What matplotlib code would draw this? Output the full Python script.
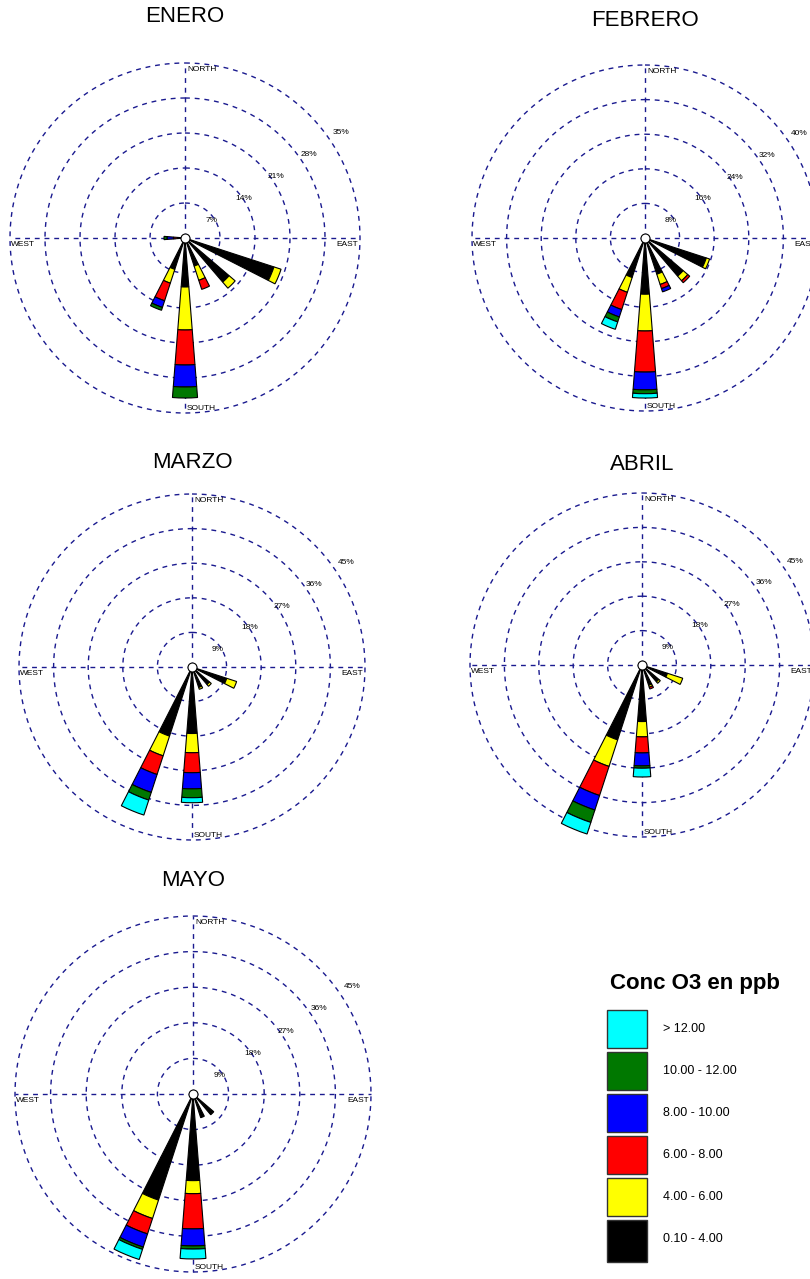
import numpy as np
import matplotlib.pyplot as plt
from matplotlib.patches import Rectangle

plt.rcParams['font.family'] = ['Liberation Sans', 'DejaVu Sans']

# 16 wind sectors, 22.5 deg apart, clockwise from north
sectors = ['N', 'NNE', 'NE', 'ENE', 'E', 'ESE', 'SE', 'SSE',
           'S', 'SSW', 'SW', 'WSW', 'W', 'WNW', 'NW', 'NNW']

class_colors = ['#000000', '#FFFF00', '#FF0000', '#0000FF', '#007800', '#00FFFF']
class_labels = ['0.10 - 4.00', '4.00 - 6.00', '6.00 - 8.00',
                '8.00 - 10.00', '10.00 - 12.00', '> 12.00']

# frequency (%) per class: black, yellow, red, blue, green, cyan
enero = {'W':   [1.0, 0.4, 0.9, 1.3, 0.6, 0.0],
         'SSW': [6.6, 2.9, 3.7, 1.4, 0.6, 0.0],
         'S':   [9.8, 8.6, 7.0, 4.4, 2.2, 0.0],
         'SSE': [5.9, 3.0, 1.9, 0.0, 0.0, 0.0],
         'SE':  [11.6, 1.6, 0.0, 0.0, 0.0, 0.0],
         'ESE': [18.7, 1.5, 0.0, 0.0, 0.0, 0.0]}
febrero = {'ESE': [14.9, 0.8, 0.0, 0.0, 0.0, 0.0],
           'SE':  [11.6, 1.4, 0.6, 0.0, 0.0, 0.0],
           'SSE': [8.8, 2.5, 1.0, 0.8, 0.0, 0.0],
           'SSW': [9.6, 3.6, 4.2, 1.8, 1.2, 1.8],
           'S':   [13.0, 8.5, 9.5, 4.1, 0.9, 1.0]}
marzo = {'ESE': [9.5, 2.7, 0.0, 0.0, 0.0, 0.0],
         'SE':  [6.0, 0.6, 0.0, 0.0, 0.0, 0.0],
         'SSE': [5.6, 0.5, 0.0, 0.0, 0.0, 0.0],
         'S':   [17.3, 5.0, 5.2, 4.2, 2.3, 1.3],
         'SSW': [18.9, 5.4, 5.1, 4.9, 2.1, 4.1]}
abril = {'ESE': [7.0, 4.2, 0.0, 0.0, 0.0, 0.0],
         'SE':  [5.8, 0.5, 0.0, 0.0, 0.0, 0.0],
         'SSE': [5.6, 0.5, 0.5, 0.0, 0.0, 0.0],
         'S':   [14.8, 4.0, 4.2, 3.4, 0.6, 2.3],
         'SSW': [20.6, 7.3, 8.0, 4.0, 3.4, 3.2]}
mayo = {'SE':  [6.9, 0.0, 0.0, 0.0, 0.0, 0.0],
        'SSE': [6.3, 0.0, 0.0, 0.0, 0.0, 0.0],
        'S':   [21.9, 3.3, 8.9, 4.3, 0.8, 2.5],
        'SSW': [28.2, 4.9, 4.1, 3.5, 0.6, 2.7]}

months = ['ENERO', 'FEBRERO', 'MARZO', 'ABRIL', 'MAYO']
month_data = [enero, febrero, marzo, abril, mayo]
ring_max = [35, 40, 45, 45, 45]

W, H = 810, 1279
fig = plt.figure(figsize=(W / 100, H / 100), dpi=100)
grid_color = '#1a1a8f'
dash = (0, (3.5, 3.5))

# pixel layout: center x, center y, radius, title y
layout = [(185, 238, 175, 16), (645, 238, 173, 20), (192, 667, 173, 462),
          (642, 665, 172, 465), (193, 1094, 178, 880)]


def draw_rose(cx, cy, rpx, data, rmax, title, ty):
    ax = fig.add_axes([(cx - rpx) / W, 1 - (cy + rpx) / H, 2 * rpx / W, 2 * rpx / H],
                      projection='polar')
    ax.set_theta_zero_location('N')
    ax.set_theta_direction(-1)
    ax.set_ylim(0, rmax)
    ax.set_axis_off()

    t = np.linspace(0, 2 * np.pi, 361)
    step = rmax / 5
    for k in range(1, 6):
        ax.plot(t, np.full_like(t, step * k), ls=dash, color=grid_color,
                lw=1.0, clip_on=False, zorder=1)
    for a in [0, np.pi / 2, np.pi, 3 * np.pi / 2]:
        ax.plot([a, a], [0, rmax], ls=dash, color=grid_color, lw=1.0,
                clip_on=False, zorder=1)

    # ring labels
    for k in range(1, 6):
        val = step * k
        r_lab = 1.12 * val - 7.3 * rmax / rpx
        ax.text(np.deg2rad(56), r_lab, f'{val:g}%', fontsize=6, ha='center',
                va='center', zorder=2)

    ax.annotate('NORTH', xy=(0, rmax), xytext=(1.5, -2), textcoords='offset points',
                ha='left', va='top', fontsize=6, annotation_clip=False)
    ax.annotate('SOUTH', xy=(np.pi, rmax), xytext=(1.5, 1), textcoords='offset points',
                ha='left', va='bottom', fontsize=6, annotation_clip=False)
    ax.annotate('WEST', xy=(3 * np.pi / 2, rmax), xytext=(1, -2), textcoords='offset points',
                ha='left', va='top', fontsize=6, annotation_clip=False)
    ax.annotate('EAST', xy=(np.pi / 2, rmax), xytext=(-1, -2), textcoords='offset points',
                ha='right', va='top', fontsize=6, annotation_clip=False)

    # stacked bars
    for d, segs in data.items():
        th = np.deg2rad(sectors.index(d) * 22.5)
        bottom = 0
        for v, c in zip(segs, class_colors):
            if v > 0:
                ax.bar(th, v, width=np.deg2rad(9), bottom=bottom, color=c,
                       edgecolor='black', lw=0.8, zorder=3, clip_on=False)
            bottom += v

    ax.scatter([0], [0], s=42, facecolor='white', edgecolor='black', lw=0.8,
               zorder=10, clip_on=False)
    fig.text(cx / W, 1 - ty / H, title, ha='center', va='center', fontsize=16)


for (cx, cy, rpx, ty), m, d, rm in zip(layout, months, month_data, ring_max):
    draw_rose(cx, cy, rpx, d, rm, m, ty)

# legend
lg = fig.add_axes([0, 0, 1, 1])
lg.set_xlim(0, W)
lg.set_ylim(H, 0)
lg.set_axis_off()
lg.patch.set_alpha(0)
lg.text(695, 983, 'Conc O3 en ppb', ha='center', va='center', fontsize=16,
        fontweight='bold')
box_top = [1220, 1178, 1136, 1094, 1052, 1010]
box_h = [42, 38, 38, 38, 38, 38]
for c, lab, y0, h in zip(class_colors, class_labels, box_top, box_h):
    lg.add_patch(Rectangle((607, y0), 40, h, facecolor=c, edgecolor='#333333', lw=1))
    lg.text(663, y0 + 19, lab, ha='left', va='center', fontsize=9)

fig.savefig('out.png', dpi=100)
